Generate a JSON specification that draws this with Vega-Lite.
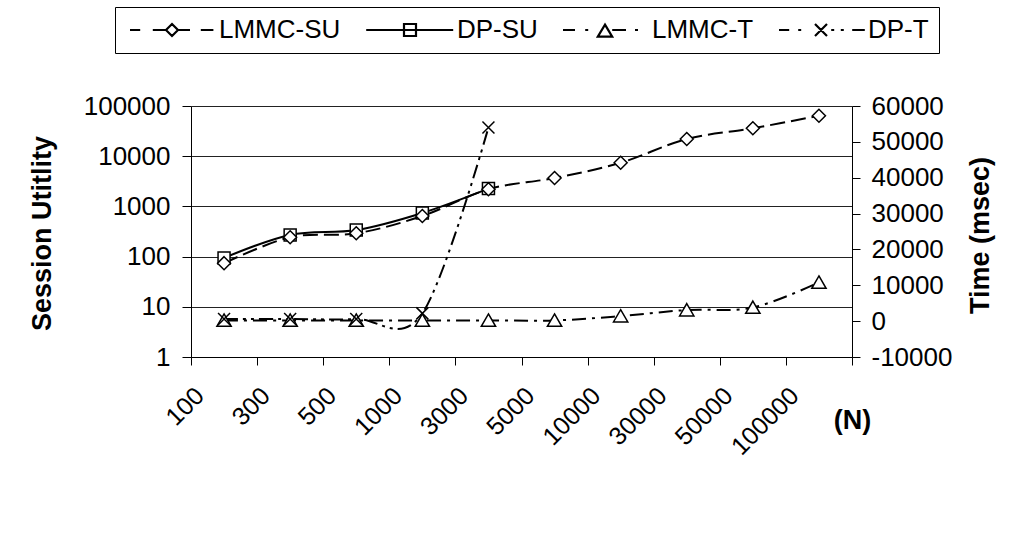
{
  "$schema": "https://vega.github.io/schema/vega-lite/v6.json",
  "width": 661,
  "height": 251,
  "autosize": {"type": "none"},
  "padding": {"left": 191, "top": 106, "right": 181, "bottom": 197},
  "background": "white",
  "config": {
    "view": {"stroke": null},
    "font": "Liberation Sans",
    "axis": {
      "domainColor": "black", "domainWidth": 1,
      "tickColor": "black", "tickWidth": 1,
      "labelColor": "black", "titleColor": "black",
      "labelFont": "Liberation Sans", "titleFont": "Liberation Sans",
      "labelFontSize": 26, "titleFontSize": 27, "titleFontWeight": "bold",
      "grid": false
    }
  },
  "datasets": {
    "su": [
      {"N": 100, "series": "LMMC-SU", "value": 74},
      {"N": 300, "series": "LMMC-SU", "value": 243},
      {"N": 500, "series": "LMMC-SU", "value": 291},
      {"N": 1000, "series": "LMMC-SU", "value": 645},
      {"N": 3000, "series": "LMMC-SU", "value": 2200},
      {"N": 5000, "series": "LMMC-SU", "value": 3680},
      {"N": 10000, "series": "LMMC-SU", "value": 7400},
      {"N": 30000, "series": "LMMC-SU", "value": 22000},
      {"N": 50000, "series": "LMMC-SU", "value": 36000},
      {"N": 100000, "series": "LMMC-SU", "value": 64000},
      {"N": 100, "series": "DP-SU", "value": 94},
      {"N": 300, "series": "DP-SU", "value": 270},
      {"N": 500, "series": "DP-SU", "value": 338},
      {"N": 1000, "series": "DP-SU", "value": 740},
      {"N": 3000, "series": "DP-SU", "value": 2260}
    ],
    "t": [
      {"N": 100, "series": "LMMC-T", "value": 200},
      {"N": 300, "series": "LMMC-T", "value": 200},
      {"N": 500, "series": "LMMC-T", "value": 200},
      {"N": 1000, "series": "LMMC-T", "value": 200},
      {"N": 3000, "series": "LMMC-T", "value": 200},
      {"N": 5000, "series": "LMMC-T", "value": 200},
      {"N": 10000, "series": "LMMC-T", "value": 1400},
      {"N": 30000, "series": "LMMC-T", "value": 3100},
      {"N": 50000, "series": "LMMC-T", "value": 3800},
      {"N": 100000, "series": "LMMC-T", "value": 10800},
      {"N": 100, "series": "DP-T", "value": 590},
      {"N": 300, "series": "DP-T", "value": 590},
      {"N": 500, "series": "DP-T", "value": 590},
      {"N": 1000, "series": "DP-T", "value": 2170},
      {"N": 3000, "series": "DP-T", "value": 54000}
    ]
  },
  "encoding": {
    "x": {
      "field": "N", "type": "ordinal", "bandPosition": 0.5,
      "scale": {"type": "band", "paddingInner": 0, "paddingOuter": 0},
      "axis": {
        "title": "(N)", "titleX": 661, "titleY": 63, "titleAlign": "center", "titleBaseline": "middle",
        "labelAngle": -45, "labelAlign": "right", "labelBaseline": "alphabetic",
        "labelFontSize": 25, "labelOffset": -19, "labelPadding": 32,
        "tickSize": 8, "tickBand": "extent", "labelOverlap": false,
        "labelExpr": "isValid(datum.value) ? '' + datum.value : ''"
      }
    }
  },
  "layer": [
    {
      "data": {"name": "su"},
      "encoding": {
        "y": {
          "field": "value", "type": "quantitative",
          "scale": {"type": "log", "domain": [1, 100000], "nice": false},
          "axis": {
            "title": "Session Utitlity", "titleX": -149, "titleY": 127,
            "titleAlign": "center", "titleBaseline": "middle",
            "values": [1, 10, 100, 1000, 10000, 100000], "format": "d",
            "grid": true, "gridColor": "#222", "gridWidth": 1,
            "tickSize": 9, "labelPadding": 12, "labelBaseline": "middle"
          }
        }
      },
      "layer": [
        {
          "transform": [{"filter": "datum.series == 'LMMC-SU'"}],
          "mark": {"type": "line", "interpolate": "cardinal", "color": "black", "strokeWidth": 2, "strokeDash": [15, 6]}
        },
        {
          "transform": [{"filter": "datum.series == 'DP-SU'"}],
          "mark": {"type": "line", "interpolate": "cardinal", "color": "black", "strokeWidth": 2}
        },
        {
          "transform": [{"filter": "datum.series == 'DP-SU'"}],
          "mark": {"type": "point", "shape": "M-1,-1L1,-1L1,1L-1,1Z", "size": 144, "filled": true, "fill": "white", "stroke": "black", "strokeWidth": 1.5, "opacity": 1}
        },
        {
          "transform": [{"filter": "datum.series == 'LMMC-SU'"}],
          "mark": {"type": "point", "shape": "M0,-1L1,0L0,1L-1,0Z", "size": 169, "filled": true, "fill": "white", "stroke": "black", "strokeWidth": 1.5, "opacity": 1}
        },
        {
          "transform": [{"filter": "datum.series == 'legend-only'"}],
          "mark": {"type": "point", "filled": false, "color": "black", "strokeWidth": 2, "opacity": 1},
          "encoding": {
            "shape": {
              "field": "series", "type": "nominal",
              "scale": {
                "domain": ["LMMC-SU", "DP-SU", "LMMC-T", "DP-T"],
                "range": [
                  "M-7,0L-5.3,0M-3.2,0L-1,0M0,-1L1,0L0,1L-1,0ZM1,0L3,0M4.8,0L6.9,0",
                  "M-7.3,0L7.2,0M-1,-1L1,-1L1,1L-1,1Z",
                  "M-7,0L-5,0M-3.3,0L-2.8,0M0,-0.9L1.2,1.1L-1.2,1.1ZM1.2,0L3.5,0M5,0L5.5,0",
                  "M-7,0L-5.3,0M-3.8,0L-3.3,0M-1,-1L1,1M-1,1L1,-1M1.7,0L2.2,0M3.3,0L3.8,0M5.2,0L7.3,0"
                ]
              },
              "legend": {
                "orient": "none", "legendX": -76, "legendY": -99,
                "direction": "horizontal", "columns": 4, "title": null,
                "symbolSize": 144, "symbolStrokeWidth": 2.2, "symbolStrokeColor": "black",
                "symbolFillColor": "transparent",
                "symbolOffset": 34, "labelOffset": 34,
                "labelFontSize": 26, "labelFont": "Liberation Sans", "labelColor": "black", "labelLimit": 400,
                "strokeColor": "black", "fillColor": "white",
                "padding": 10, "columnPadding": 20, "cornerRadius": 0
              }
            }
          }
        }
      ]
    },
    {
      "data": {"name": "t"},
      "encoding": {
        "y": {
          "field": "value", "type": "quantitative",
          "scale": {"domain": [-10000, 60000], "nice": false, "zero": false},
          "axis": {
            "orient": "right", "title": "Time (msec)", "titleAngle": -90,
            "titleX": 128, "titleY": 129, "titleAlign": "center", "titleBaseline": "middle",
            "values": [-10000, 0, 10000, 20000, 30000, 40000, 50000, 60000],
            "labelExpr": "'' + datum.value",
            "tickSize": 8, "labelPadding": 11, "labelBaseline": "middle", "grid": false
          }
        }
      },
      "layer": [
        {
          "transform": [{"filter": "datum.series == 'LMMC-T'"}],
          "mark": {"type": "line", "interpolate": "cardinal", "color": "black", "strokeWidth": 2, "strokeDash": [14, 6, 3, 6]}
        },
        {
          "transform": [{"filter": "datum.series == 'DP-T'"}],
          "mark": {"type": "line", "interpolate": "cardinal", "color": "black", "strokeWidth": 2, "strokeDash": [14, 5, 3, 5, 3, 5]}
        },
        {
          "transform": [{"filter": "datum.series == 'LMMC-T'"}],
          "mark": {"type": "point", "shape": "M0,-1L1.1,0.9L-1.1,0.9Z", "size": 169, "filled": true, "fill": "white", "stroke": "black", "strokeWidth": 1.5, "opacity": 1}
        },
        {
          "transform": [{"filter": "datum.series == 'DP-T'"}],
          "mark": {"type": "point", "shape": "M-1,-1L1,1M-1,1L1,-1", "size": 144, "filled": true, "fill": "white", "stroke": "black", "strokeWidth": 1.5, "opacity": 1}
        }
      ]
    }
  ],
  "resolve": {"scale": {"y": "independent"}}
}
